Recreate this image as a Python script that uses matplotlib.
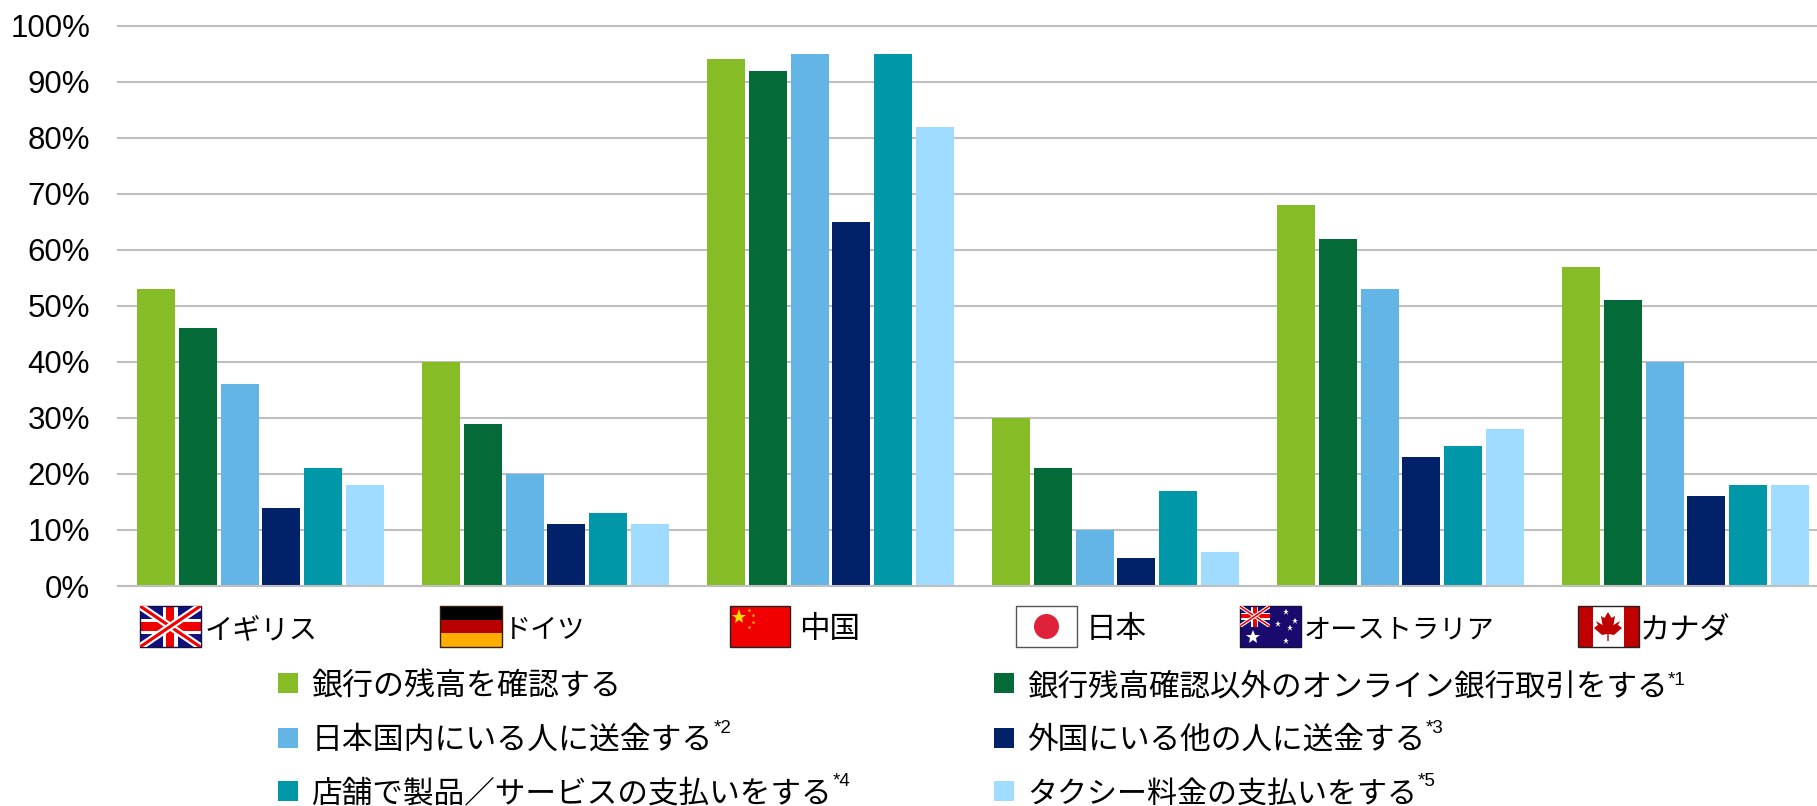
import numpy as np
import matplotlib
matplotlib.use('Agg')
import matplotlib.pyplot as plt
from matplotlib.patches import Rectangle, Circle, Polygon

plt.rcParams['font.family'] = ['Liberation Sans', 'Noto Sans CJK JP']

countries = ['イギリス', 'ドイツ', '中国', '日本', 'オーストラリア', 'カナダ']
series_names = ['銀行の残高を確認する', '銀行残高確認以外のオンライン銀行取引をする',
                '日本国内にいる人に送金する', '外国にいる他の人に送金する',
                '店舗で製品／サービスの支払いをする', 'タクシー料金の支払いをする']
footnotes = ['', '*1', '*2', '*3', '*4', '*5']
colors = ['#86BC25', '#046A38', '#62B5E5', '#012169', '#0097A9', '#A0DCFF']

balance = [53, 40, 94, 30, 68, 57]
online_banking = [46, 29, 92, 21, 62, 51]
domestic_transfer = [36, 20, 95, 10, 53, 40]
foreign_transfer = [14, 11, 65, 5, 23, 16]
store_payment = [21, 13, 95, 17, 25, 18]
taxi_payment = [18, 11, 82, 6, 28, 18]
series = [balance, online_banking, domestic_transfer, foreign_transfer, store_payment, taxi_payment]

W, H = 1817, 806
fig = plt.figure(figsize=(W / 100, H / 100), dpi=100)

# plot area in pixels, right side runs off the image like the original
left, right, top, bottom = 118, 1817, 25.7, 586
ax = fig.add_axes([left / W, 1 - bottom / H, (right - left) / W, (bottom - top) / H])

group_px = 285
step = 41.8 / group_px
bar_w = 38 / group_px
x = np.arange(len(countries))
for i, vals in enumerate(series):
    ax.bar(x + (i - 2.5) * step, vals, bar_w, color=colors[i], zorder=3)

ax.set_xlim(-0.5, (right - left) / group_px - 0.5)
ax.set_ylim(0, 100)
ax.set_yticks(range(0, 101, 10))
ax.set_yticklabels([f'{v}%' for v in range(0, 101, 10)], fontsize=22.5, color='black')
ax.set_xticks([])
ax.tick_params(axis='y', length=0, pad=20)
ax.yaxis.grid(True, color='#BFBFBF', linewidth=1.5, zorder=0)
ax.set_axisbelow(True)
for s in ax.spines.values():
    s.set_visible(False)
ax.spines['bottom'].set_visible(True)
ax.spines['bottom'].set_color('#BFBFBF')
ax.spines['bottom'].set_linewidth(1.5)
ax.spines['bottom'].set_zorder(4)
ax.patch.set_alpha(0)
for line in ax.get_ygridlines():
    line.set_clip_on(False)

# overlay in image pixels for the flags, country names and legend
ov = fig.add_axes([0, 0, 1, 1], zorder=5)
ov.set_xlim(0, W)
ov.set_ylim(H, 0)
ov.axis('off')


def rect(x0, y0, w, h, c, **kw):
    p = Rectangle((x0, y0), w, h, facecolor=c, edgecolor='none', **kw)
    ov.add_patch(p)
    return p


def union_jack(x0, y0, w, h):
    bg = rect(x0, y0, w, h, '#10107E')
    x1, y1 = x0 + w, y0 + h
    for ys in [(y0, y1), (y1, y0)]:
        for col, lw in [('white', h * 0.13), ('#F00000', h * 0.055)]:
            ln, = ov.plot([x0, x1], ys, color=col, lw=lw, solid_capstyle='butt')
            ln.set_clip_path(bg)
    rect(x0 + w * 0.38, y0, w * 0.24, h, 'white')
    rect(x0, y0 + h * 0.32, w, h * 0.36, 'white')
    rect(x0 + w * 0.43, y0, w * 0.14, h, '#F00000')
    rect(x0, y0 + h * 0.40, w, h * 0.20, '#F00000')


def border(x0, y0, w, h, c='#222222'):
    ov.add_patch(Rectangle((x0, y0), w, h, facecolor='none', edgecolor=c, linewidth=1))


fy, fh = 606, 41

# UK
union_jack(140, fy, 60.5, fh)
border(140, fy, 60.5, fh, '#101040')

# Germany
rect(440, fy, 62, fh / 3, 'black')
rect(440, fy + fh / 3, 62, fh / 3, '#B80000')
rect(440, fy + 2 * fh / 3, 62, fh / 3, '#FFAE00')
border(440, fy, 62, fh, '#332200')

# China
rect(730, fy, 60, fh, '#F00000')
ov.plot([739], [fy + 11], marker='*', color='#FFE000', markersize=11, markeredgewidth=0)
ov.plot([749, 753, 753, 749], [fy + 4, fy + 9, fy + 16, fy + 21], ls='none', marker='*',
        color='#FFC000', markersize=3, markeredgewidth=0)
border(730, fy, 60, fh)

# Japan
rect(1016, fy, 61, fh, 'white')
border(1016, fy, 61, fh, '#555555')
ov.add_patch(Circle((1046.5, fy + fh / 2), 12.5, facecolor='#E0213A', edgecolor='none'))

# Australia
rect(1239.5, fy, 61, fh, '#1A0A6E')
union_jack(1239.5, fy, 30.5, 20.5)
ov.plot([1286, 1277.7, 1295, 1290, 1286], [612, 624, 621, 628, 641], ls='none', marker='*',
        color='white', markersize=5, markeredgewidth=0)
ov.plot([1253], [637], marker='*', color='white', markersize=10, markeredgewidth=0)
border(1239.5, fy, 61, fh, '#101040')

# Canada
rect(1577.5, fy, 61, fh, 'white')
rect(1577.5, fy, 15, fh, '#BE0000')
rect(1624, fy, 14.5, fh, '#BE0000')
leaf_x = np.array([0, 3.5, 7, 5.5, 12, 10, 14, 6, 0.7, 0.7, -0.7, -0.7, -6, -14, -10, -12, -5.5, -7, -3.5])
leaf_y = np.array([-15, -9, -11, -2, -6, -2, 1, 8, 7, 14, 14, 7, 8, 1, -2, -6, -2, -11, -9])
ov.add_patch(Polygon(np.column_stack([1608 + leaf_x, fy + 21 + leaf_y]), facecolor='#BE0000', edgecolor='none'))
border(1577.5, fy, 61, fh)

label_x = [205, 504, 799, 1086, 1304, 1640]
label_size = [20.3, 19.5, 22, 22, 19.6, 21.8]
for name, lx, sz in zip(countries, label_x, label_size):
    ov.text(lx, 638, name, fontsize=sz, family='Noto Sans CJK JP', va='baseline', ha='left', color='black')

# legend, filled row by row
col_swatch = [278, 994]
col_text = [311.5, 1027]
row_base = [695.5, 749, 802.5]
swatch_top = [673, 728, 781]
note_top = [672, 720, 773]
legend_size = [22.3, 22, 22.2, 22.1, 22.1, 21.6]
renderer = fig.canvas.get_renderer()
for i, name in enumerate(series_names):
    c, r = i % 2, i // 2
    rect(col_swatch[c], swatch_top[r], 19.5, 19.5, colors[i])
    t = ov.text(col_text[c], row_base[r], name, fontsize=legend_size[i], family='Noto Sans CJK JP',
                va='baseline', ha='left', color='black')
    if footnotes[i]:
        # superscript sits just after the label, at a fixed height for the row
        end_x = t.get_window_extent(renderer).x1
        ov.text(end_x + 0.5, note_top[r], footnotes[i], fontsize=13.5, va='top', ha='left', color='black')

fig.savefig('out.png', dpi=100, facecolor='white')
plt.close(fig)
